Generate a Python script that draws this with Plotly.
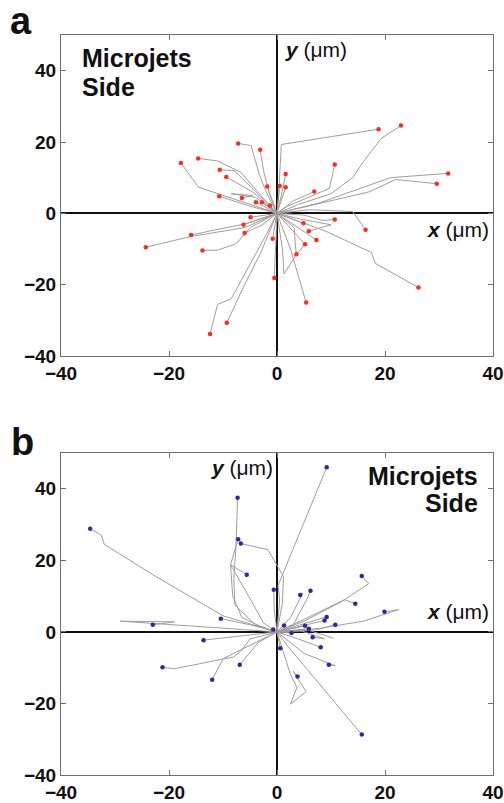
import plotly.graph_objects as go

# ---------- Panel a: trajectories (x waypoints, y waypoints), last point = endpoint ----------
a_paths_x = [
    [0, 4, 10, 14, 16, 19.3, 22.96],
    [0, 0.3, 0.8, 18.8],
    [0, -2, -3.3, -4.8, -7.2],
    [0, -1.5, -2.5, -3.1],
    [0, -6, -14.5, -17.8],
    [0, -3, -6.7, -11, -14.6],
    [0, -4, -7.9, -10.6],
    [0, -4.5, -9.4],
    [0, 2, 9.7, 10.7],
    [0, 0.8, 1.6],
    [0, 8, 21, 31.7],
    [0, 7, 17, 22, 29.6],
    [0, 0.5],
    [0, 1.6],
    [0, -1.8],
    [0, 3, 6.9],
    [0, -5, -10.7],
    [0, -4, -8.5, -4.5, -6.5],
    [0, -3.9],
    [0, -2.8],
    [0, -1.3],
    [0, 5, 8.5, 10.7],
    [0, 6, 14, 16.4],
    [0, 4.9],
    [0, 4, 10, 5.9],
    [0, 7.3],
    [0, 5.2],
    [0, 3.2, 3.4, 3.6],
    [0, 1, 1.3, 3.6, 5.2],
    [0, -4.9],
    [0, -6.2],
    [0, -3, -6.0],
    [0, -6, -12, -15.9],
    [0, -6, -16, -24.3],
    [0, -5, -7.5, -11, -13.8],
    [0, -0.8],
    [0, -0.3, -0.5],
    [0, 2.5, 5.4],
    [0, 9, 17.5, 18.2, 26.2],
    [0, -3, -6, -9.3],
    [0, -2, -8.5, -11, -12.4],
]
a_paths_y = [
    [0, 2.5, 5.5, 10, 14.5, 21, 24.6],
    [0, 5, 19.3, 23.6],
    [0, 6, 11, 19, 19.6],
    [0, 6, 12, 17.8],
    [0, 3, 7.3, 14.1],
    [0, 5, 11.5, 14.7, 15.4],
    [0, 6, 12, 12.2],
    [0, 6, 10.2],
    [0, 2, 7, 13.7],
    [0, 5, 11.0],
    [0, 3, 10, 11.2],
    [0, 2.5, 6, 9.5, 8.3],
    [0, 7.7],
    [0, 7.3],
    [0, 7.5],
    [0, 3.5, 6.1],
    [0, 2, 4.8],
    [0, 4.5, 5.5, 5, 4.3],
    [0, 3.1],
    [0, 3.1],
    [0, 2.2],
    [0, -0.5, -2, -1.7],
    [0, 1, 0.5, -4.6],
    [0, -2.8],
    [0, -1.5, -3.2, -5.0],
    [0, -7.5],
    [0, -8.7],
    [0, -4, -9, -11.5],
    [0, -10, -17, -11.5, -8.7],
    [0, -1.1],
    [0, -3.2],
    [0, -3.5, -5.5],
    [0, -3, -4.8, -6.1],
    [0, -4, -6.5, -9.5],
    [0, -4, -8.5, -10.3, -10.4],
    [0, -7.1],
    [0, -9, -18.1],
    [0, -10, -25.0],
    [0, -5, -11, -14, -20.8],
    [0, -11, -20, -30.7],
    [0, -6, -24, -25.5, -33.8],
]
a_end_x = [22.96, 18.8, -7.2, -3.1, -17.8, -14.6, -10.6, -9.4, 10.7, 1.6, 31.7, 29.6, 0.5, 1.6,
           -1.8, 6.9, -10.7, -6.5, -3.9, -2.8, -1.3, 10.7, 16.4, 4.9, 5.9, 7.3, 5.2, 3.6, -4.9,
           -6.2, -6.0, -15.9, -24.3, -13.8, -0.8, -0.5, 5.4, 26.2, -9.3, -12.4]
a_end_y = [24.6, 23.6, 19.6, 17.8, 14.1, 15.4, 12.2, 10.2, 13.7, 11.0, 11.2, 8.3, 7.7, 7.3,
           7.5, 6.1, 4.8, 4.3, 3.1, 3.1, 2.2, -1.7, -4.6, -2.8, -5.0, -7.5, -8.7, -11.5, -1.1,
           -3.2, -5.5, -6.1, -9.5, -10.4, -7.1, -18.1, -25.0, -20.8, -30.7, -33.8]

# ---------- Panel b ----------
b_paths_x = [
    [0, 0.5, 0.2, 9.2],
    [0, -4, -7.8, -8, -7.6, -7.3],
    [0, -10, -23, -32, -32.5, -33, -34.6],
    [0, -3, -6.5, -8.2, -8.6, -7.2],
    [0, 1, 1.2, -0.5, -1.7, -6.7],
    [0, -2.5, -4.5, -8.6, -5.6],
    [0, -0.5, -0.6],
    [0, 2.5, 4.8, 4.3],
    [0, 3, 5.5, 6.2],
    [0, 5, 12, 17, 15.7],
    [0, 5, 12.5, 14.5],
    [0, 8, 16, 22.5, 19.9],
    [0, 9.2],
    [0, 8.8],
    [0, 7, 10.8],
    [0, 5.2],
    [0, 5.9],
    [0, 1.3],
    [0, -0.7],
    [0, 2.7],
    [0, 4, 8.8, 6.6],
    [0, 4, 8.1],
    [0, 2.5, 5, 10.8, 9.6],
    [0, 0.6],
    [0, 1, 2.5, 3.7, 2.5, 5.4, 3, 3.8],
    [0, 2, 15.7],
    [0, -5, -10.4],
    [0, -10, -29, -19, -23.0],
    [0, -6, -13.6],
    [0, -5, -6.5, -8, -19, -21.2],
    [0, -3.5, -6.9],
    [0, -6, -10, -12.0],
    [0, 6, 10.5],
]
b_paths_y = [
    [0, 9, 13, 46.0],
    [0, 2, 7.5, 15, 24, 37.5],
    [0, 4.5, 16, 24.5, 27, 27.5, 28.8],
    [0, 1.5, 4, 10, 18.8, 25.9],
    [0, 8, 15.5, 19.7, 23, 24.7],
    [0, 2.5, 8, 18.8, 16.0],
    [0, 6, 11.8],
    [0, 4, 10.9, 10.3],
    [0, 2, 9, 11.5],
    [0, 3, 8.5, 13.5, 15.6],
    [0, 3.5, 9, 7.9],
    [0, 1, 3, 6.2, 5.6],
    [0, 4.2],
    [0, 3.2],
    [0, 0.5, 2.0],
    [0, 1.7],
    [0, 0.9],
    [0, 1.8],
    [0, 0.7],
    [0, -0.3],
    [0, 0.5, -1.9, -1.5],
    [0, -2, -4.3],
    [0, -3, -6, -9.5, -9.2],
    [0, -4.6],
    [0, -5, -12, -15.5, -20.2, -16.7, -11, -12.5],
    [0, -4, -28.7],
    [0, 2, 3.7],
    [0, 1, 3, 2.8, 2.0],
    [0, -1, -2.3],
    [0, -2, -5, -7, -10.3, -9.9],
    [0, -3, -9.2],
    [0, -4.5, -7.5, -13.4],
    [0, 0.4, -1.8],
]
b_end_x = [9.2, -7.3, -34.6, -7.2, -6.7, -5.6, -0.6, 4.3, 6.2, 15.7, 14.5, 19.9, 9.2, 8.8, 10.8,
           5.2, 5.9, 1.3, -0.7, 2.7, 6.6, 8.1, 9.6, 0.6, 3.8, 15.7, -10.4, -23.0, -13.6, -21.2,
           -6.9, -12.0]
b_end_y = [46.0, 37.5, 28.8, 25.9, 24.7, 16.0, 11.8, 10.3, 11.5, 15.6, 7.9, 5.6, 4.2, 3.2, 2.0,
           1.7, 0.9, 1.8, 0.7, -0.3, -1.5, -4.3, -9.2, -4.6, -12.5, -28.7, 3.7, 2.0, -2.3, -9.9,
           -9.2, -13.4]

tick_vals = [-40, -20, 0, 20, 40]
tick_text = ["\u221240", "\u221220", "0", "20", "40"]

LINE_COLOR = "#a49c9c"
FONT = "Liberation Sans, Arial, sans-serif"


def joined(paths):
    out = []
    for p in paths:
        out.extend(p)
        out.append(None)
    return out


fig = go.Figure()
fig.add_trace(go.Scatter(x=joined(a_paths_x), y=joined(a_paths_y), mode="lines",
                         line=dict(color=LINE_COLOR, width=1), xaxis="x", yaxis="y",
                         hoverinfo="skip", showlegend=False))
fig.add_trace(go.Scatter(x=a_end_x, y=a_end_y, mode="markers",
                         marker=dict(color="#ff2a1a", size=4.5), xaxis="x", yaxis="y",
                         showlegend=False))
fig.add_trace(go.Scatter(x=joined(b_paths_x), y=joined(b_paths_y), mode="lines",
                         line=dict(color=LINE_COLOR, width=1), xaxis="x2", yaxis="y2",
                         hoverinfo="skip", showlegend=False))
fig.add_trace(go.Scatter(x=b_end_x, y=b_end_y, mode="markers",
                         marker=dict(color="#2a2aa0", size=4.5), xaxis="x2", yaxis="y2",
                         showlegend=False))

axis_common = dict(
    showgrid=False, zeroline=True, zerolinecolor="#111111", zerolinewidth=2,
    showline=True, linecolor="#707070", linewidth=1, mirror="ticks",
    ticks="inside", ticklen=5, tickcolor="#707070", automargin=False,
    tickfont=dict(family=FONT, size=19, color="#111111", weight="bold"),
    tickvals=tick_vals, ticktext=tick_text,
)

fig.update_layout(
    width=504, height=803,
    margin=dict(l=61, r=11, t=35, b=28),
    paper_bgcolor="white", plot_bgcolor="white",
    xaxis=dict(domain=[0, 1], range=[-40, 40], anchor="y", **axis_common),
    yaxis=dict(domain=[0.5662, 1], range=[-40, 50], anchor="x", **axis_common),
    xaxis2=dict(domain=[0, 1], range=[-40, 40], anchor="y2", **axis_common),
    yaxis2=dict(domain=[0, 0.4351], range=[-40, 50], anchor="x2", **axis_common),
)

plot_w = 504 - 61 - 11
plot_h = 803 - 35 - 28


def px_to_paper(px, py):
    return (px - 61) / plot_w, (803 - 28 - py) / plot_h


ann_font = dict(family=FONT, size=21, color="#111111")
label_font = dict(family=FONT, size=25, color="#111111", weight="bold")
letter_font = dict(family=FONT, size=38, color="#111111", weight="bold")

ax_, ay_ = px_to_paper(21, 21)
bx_, by_ = px_to_paper(22, 442)

anns = [
    # panel a
    dict(x=1.1, y=45.8, xref="x", yref="y", text="<b><i>y</i></b> (\u03bcm)", xanchor="left",
         yanchor="middle", showarrow=False, font=ann_font),
    dict(x=39.6, y=-4.6, xref="x", yref="y", text="<b><i>x</i></b> (\u03bcm)", xanchor="right",
         yanchor="middle", showarrow=False, font=ann_font),
    dict(x=-36.4, y=43.6, xref="x", yref="y", text="Microjets", xanchor="left",
         yanchor="middle", showarrow=False, font=label_font),
    dict(x=-36.4, y=35.5, xref="x", yref="y", text="Side", xanchor="left",
         yanchor="middle", showarrow=False, font=label_font),
    # panel b
    dict(x=-0.4, y=46.0, xref="x2", yref="y2", text="<b><i>y</i></b> (\u03bcm)", xanchor="right",
         yanchor="middle", showarrow=False, font=ann_font),
    dict(x=39.6, y=5.8, xref="x2", yref="y2", text="<b><i>x</i></b> (\u03bcm)", xanchor="right",
         yanchor="middle", showarrow=False, font=ann_font),
    dict(x=37.6, y=43.7, xref="x2", yref="y2", text="Microjets", xanchor="right",
         yanchor="middle", showarrow=False, font=label_font),
    dict(x=37.6, y=35.9, xref="x2", yref="y2", text="Side", xanchor="right",
         yanchor="middle", showarrow=False, font=label_font),
    # panel letters
    dict(x=ax_, y=ay_, xref="paper", yref="paper", text="a", showarrow=False,
         font=letter_font, xanchor="center", yanchor="middle"),
    dict(x=bx_, y=by_, xref="paper", yref="paper", text="b", showarrow=False,
         font=letter_font, xanchor="center", yanchor="middle"),
]
fig.update_layout(annotations=anns)

fig.write_html("out.html")
